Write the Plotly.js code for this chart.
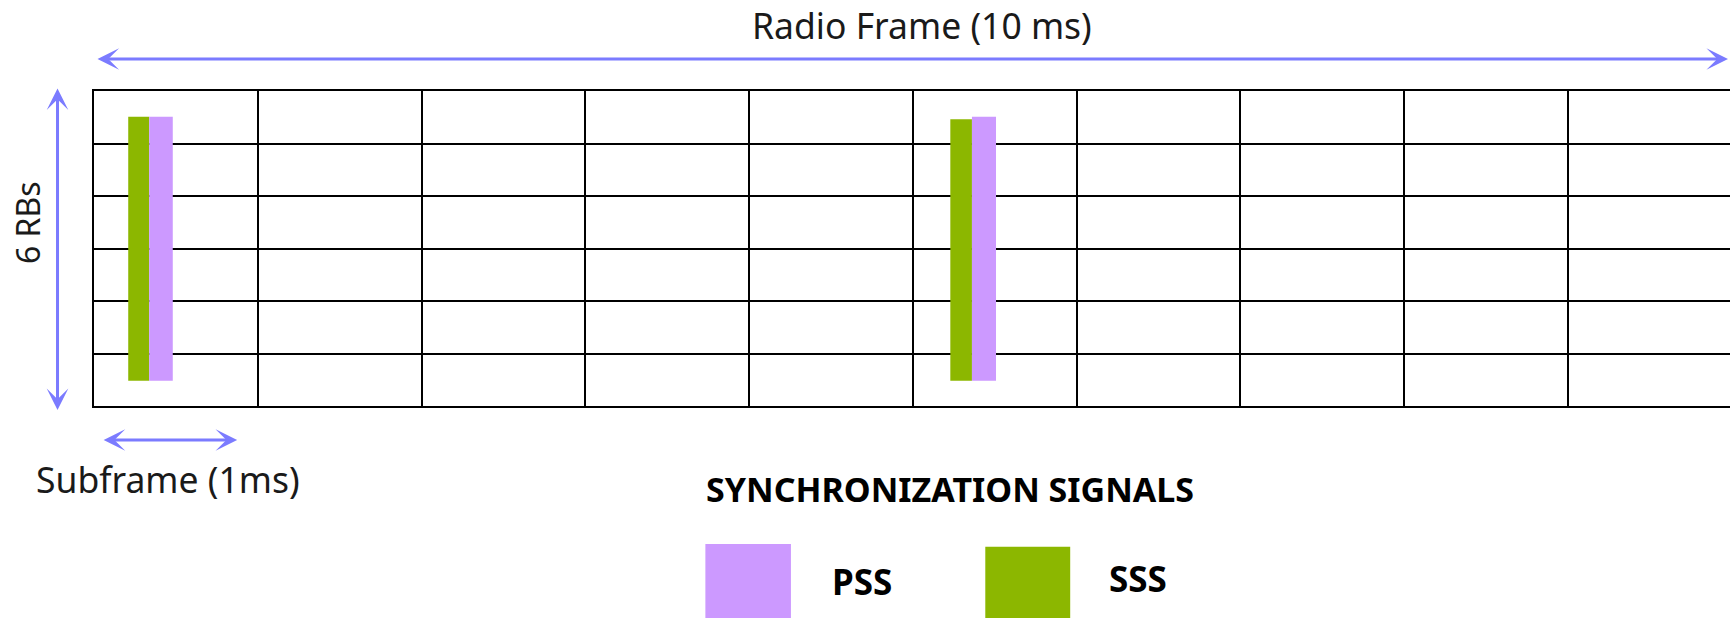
<!DOCTYPE html>
<html>
<head>
<meta charset="utf-8">
<script src="https://cdn.plot.ly/plotly-3.0.1.min.js"></script>
<style>
  html, body { margin: 0; padding: 0; background: #ffffff; }
  #chart { width: 1730px; height: 618px; }
</style>
</head>
<body>
<div id="chart"></div>
<script>
// ---- Data (units: x = subframes / ms, y = resource blocks) ----
const numSubframes = 10;
const numRBs = 6;
const signalNames = ['PSS', 'SSS'];
const signalColors = ['#cc99ff', '#8cb700'];

// PSS occurrences (subframe 0 and subframe 5)
const pssStart  = [0.337, 5.361];
const pssEnd    = [0.481, 5.508];
const pssBottom = [0.48, 0.48];
const pssTop    = [5.51, 5.51];

// SSS occurrences (subframe 0 and subframe 5)
const sssStart  = [0.209, 5.229];
const sssEnd    = [0.337, 5.361];
const sssBottom = [0.48, 0.48];
const sssTop    = [5.51, 5.46];

function barTrace(name, color, starts, ends, bottoms, tops) {
  return {
    type: 'bar',
    name: name,
    x: starts.map((s, i) => (s + ends[i]) / 2),
    width: starts.map((s, i) => ends[i] - s),
    base: bottoms,
    y: tops.map((t, i) => t - bottoms[i]),
    marker: { color: color, line: { width: 0 } },
    hoverinfo: 'name',
    showlegend: false
  };
}

const traces = [
  barTrace(signalNames[1], signalColors[1], sssStart, sssEnd, sssBottom, sssTop),
  barTrace(signalNames[0], signalColors[0], pssStart, pssEnd, pssBottom, pssTop)
];

const arrowColor = '#7b7bff';
const FONT = '"Noto Sans", "Open Sans", "DejaVu Sans", sans-serif';
const textColor = '#1a1a1a';

const layout = {
  width: 1730,
  height: 618,
  margin: { l: 93.5, r: 0, t: 91, b: 212, pad: 0 },
  paper_bgcolor: '#ffffff',
  plot_bgcolor: '#ffffff',
  barmode: 'overlay',
  showlegend: false,
  font: { family: FONT, color: textColor },
  xaxis: {
    range: [0, 9.99],
    tick0: 0, dtick: 1,
    showgrid: true, gridcolor: '#000000', gridwidth: 2,
    showline: true, linecolor: '#000000', linewidth: 2, mirror: true,
    zeroline: false, showticklabels: false, ticks: '', fixedrange: true
  },
  yaxis: {
    range: [0, numRBs],
    tick0: 0, dtick: 1,
    showgrid: true, gridcolor: '#000000', gridwidth: 2,
    showline: true, linecolor: '#000000', linewidth: 2, mirror: false,
    zeroline: false, showticklabels: false, ticks: '', fixedrange: true
  },
  shapes: [
    { type: 'rect', xref: 'paper', yref: 'paper', x0: 0.3737, x1: 0.4260, y0: -0.70, y1: -0.438,
      fillcolor: signalColors[0], line: { width: 0 } },
    { type: 'rect', xref: 'paper', yref: 'paper', x0: 0.5448, x1: 0.5967, y0: -0.70, y1: -0.4467,
      fillcolor: signalColors[1], line: { width: 0 } }
  ],
  annotations: [
    // Radio frame arrow (double-headed)
    { xref: 'paper', yref: 'paper', x: 0.99878, y: 1.1016, ax: -1632, ay: 0, axref: 'pixel', ayref: 'pixel',
      text: '', showarrow: true, arrowside: 'end+start', arrowhead: 3, startarrowhead: 3,
      arrowsize: 1.2, startarrowsize: 1.2, arrowwidth: 3, arrowcolor: arrowColor, standoff: 0, startstandoff: 0 },
    // 6 RBs arrow
    { xref: 'paper', yref: 'paper', x: -0.0223, y: -0.0127, ax: 0, ay: -323, axref: 'pixel', ayref: 'pixel',
      text: '', showarrow: true, arrowside: 'end+start', arrowhead: 3, startarrowhead: 3,
      arrowsize: 1.2, startarrowsize: 1.2, arrowwidth: 3, arrowcolor: arrowColor, standoff: 0, startstandoff: 0 },
    // Subframe arrow
    { xref: 'paper', yref: 'paper', x: 0.0875, y: -0.1079, ax: -135, ay: 0, axref: 'pixel', ayref: 'pixel',
      text: '', showarrow: true, arrowside: 'end+start', arrowhead: 3, startarrowhead: 3,
      arrowsize: 1.2, startarrowsize: 1.2, arrowwidth: 3, arrowcolor: arrowColor, standoff: 0, startstandoff: 0 },
    // Texts
    { xref: 'paper', yref: 'paper', x: 0.5061, y: 1.209, text: 'Radio Frame (10 ms)', showarrow: false,
      xanchor: 'center', yanchor: 'middle', font: { family: FONT, size: 35.5, color: textColor } },
    { xref: 'paper', yref: 'paper', x: -0.0406, y: 0.5825, text: '6 RBs', showarrow: false, textangle: -90,
      xanchor: 'center', yanchor: 'middle', font: { family: FONT, size: 32, color: textColor } },
    { xref: 'paper', yref: 'paper', x: 0.045, y: -0.2317, text: 'Subframe (1ms)', showarrow: false,
      xanchor: 'center', yanchor: 'middle', font: { family: FONT, size: 35.5, color: textColor } },
    { xref: 'paper', yref: 'paper', x: 0.5232, y: -0.262, text: '<b>SYNCHRONIZATION SIGNALS</b>', showarrow: false,
      xanchor: 'center', yanchor: 'middle', font: { family: FONT, size: 34, color: '#000000' } },
    { xref: 'paper', yref: 'paper', x: 0.4692, y: -0.558, text: '<b>' + signalNames[0] + '</b>', showarrow: false,
      xanchor: 'center', yanchor: 'middle', font: { family: FONT, size: 35, color: '#000000' } },
    { xref: 'paper', yref: 'paper', x: 0.6382, y: -0.547, text: '<b>' + signalNames[1] + '</b>', showarrow: false,
      xanchor: 'center', yanchor: 'middle', font: { family: FONT, size: 35, color: '#000000' } }
  ]
};

Plotly.newPlot('chart', traces, layout, { staticPlot: true, displayModeBar: false });
</script>
</body>
</html>
